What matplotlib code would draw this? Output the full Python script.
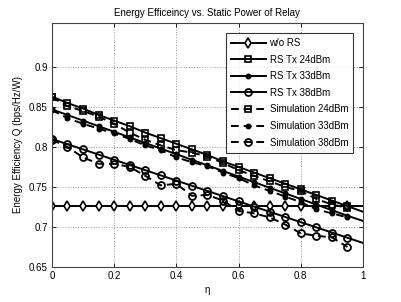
import matplotlib
matplotlib.use("Agg")
import matplotlib.pyplot as plt
import numpy as np

eta_theory = [0.00, 0.05, 0.10, 0.15, 0.20, 0.25, 0.30, 0.35, 0.40, 0.45, 0.50,
              0.55, 0.60, 0.65, 0.70, 0.75, 0.80, 0.85, 0.90, 0.95, 1.00]
eta_sim = eta_theory[:-1]

wo_rs = [0.726] * 21
rs24 = [0.863, 0.855, 0.848, 0.840, 0.833, 0.826, 0.818, 0.811, 0.804, 0.797, 0.790,
        0.782, 0.775, 0.768, 0.761, 0.754, 0.747, 0.740, 0.733, 0.726, 0.719]
rs33 = [0.847, 0.840, 0.833, 0.826, 0.819, 0.812, 0.805, 0.798, 0.791, 0.784, 0.777,
        0.770, 0.763, 0.756, 0.749, 0.742, 0.735, 0.728, 0.721, 0.714, 0.7075]
rs38 = [0.810, 0.8035, 0.797, 0.7905, 0.784, 0.7775, 0.771, 0.7645, 0.758, 0.7515, 0.745,
        0.7385, 0.732, 0.7255, 0.719, 0.7125, 0.706, 0.6995, 0.693, 0.6865, 0.680]

sim24 = [0.862, 0.851, 0.845, 0.838, 0.829, 0.818, 0.809, 0.802, 0.796, 0.793, 0.788,
         0.780, 0.771, 0.764, 0.757, 0.750, 0.745, 0.735, 0.728, 0.724]
sim33 = [0.846, 0.836, 0.829, 0.823, 0.817, 0.810, 0.802, 0.796, 0.787, 0.781, 0.776,
         0.768, 0.761, 0.752, 0.745, 0.738, 0.731, 0.722, 0.717, 0.712]
sim38 = [0.809, 0.800, 0.787, 0.779, 0.779, 0.775, 0.764, 0.752, 0.754, 0.739, 0.740,
         0.733, 0.720, 0.717, 0.712, 0.703, 0.692, 0.689, 0.687, 0.675]

plt.rcParams['font.family'] = ['Liberation Sans', 'DejaVu Sans']
fig = plt.figure(figsize=(4.02, 3.02), dpi=100)
ax = fig.add_axes([0.129, 0.116, 0.774, 0.808])

lw = 1.4
ms = 5
dms = 6.5
dash = (4, 2.5)
ax.plot(eta_theory, wo_rs, '-', color='k', lw=lw, marker='d', ms=ms, mfc='white',
        mec='k', mew=1.2, markevery=range(20), label='w/o RS')
ax.plot(eta_theory, rs24, '-', color='k', lw=lw, marker='s', ms=ms, mfc='none',
        mec='k', mew=1.2, markevery=range(20), label='RS Tx 24dBm')
ax.plot(eta_theory, rs33, '-', color='k', lw=lw, marker='.', ms=dms, mfc='k',
        mec='k', markevery=range(20), label='RS Tx 33dBm')
ax.plot(eta_theory, rs38, '-', color='k', lw=lw, marker='o', ms=ms, mfc='none',
        mec='k', mew=1.3, markevery=range(20), label='RS Tx 38dBm')
ax.plot(eta_sim, sim24, '--', dashes=dash, color='k', lw=lw, marker='s', ms=ms, mfc='none',
        mec='k', mew=1.2, label='Simulation 24dBm')
ax.plot(eta_sim, sim33, '--', dashes=dash, color='k', lw=lw, marker='.', ms=dms, mfc='k',
        mec='k', label='Simulation 33dBm')
ax.plot(eta_sim, sim38, '--', dashes=dash, color='k', lw=lw, marker='o', ms=ms, mfc='none',
        mec='k', mew=1.3, label='Simulation 38dBm')

ax.set_xlim(0, 1)
ax.set_ylim(0.65, 0.955)
ax.set_xticks([0, 0.2, 0.4, 0.6, 0.8, 1])
ax.set_xticklabels(['0', '0.2', '0.4', '0.6', '0.8', '1'])
ax.set_yticks([0.65, 0.7, 0.75, 0.8, 0.85, 0.9])
ax.set_yticklabels(['0.65', '0.7', '0.75', '0.8', '0.85', '0.9'])
ax.tick_params(direction='in', top=True, right=True, labelsize=7, length=3, width=0.6, pad=3)
ax.grid(True, linestyle=':', color='#999999', lw=0.7)
for s in ax.spines.values():
    s.set_linewidth(0.8)
    s.set_color('#444444')

ax.set_xlabel('η', fontsize=7, labelpad=3)
ax.set_ylabel('Energy Efficiency Q (bps/Hz/W)', fontsize=7, labelpad=4)
ax.set_title('Energy Efficeincy vs. Static Power of Relay', fontsize=7, pad=5)

leg = ax.legend(loc='upper right', fontsize=7, frameon=True, fancybox=False,
                edgecolor='k', handlelength=3.6, labelspacing=0.68,
                borderaxespad=0.55, handletextpad=0.4, borderpad=0.5,
                bbox_to_anchor=(0.985, 0.98))
leg.get_frame().set_linewidth(0.8)

fig.savefig('out.png', dpi=100)
